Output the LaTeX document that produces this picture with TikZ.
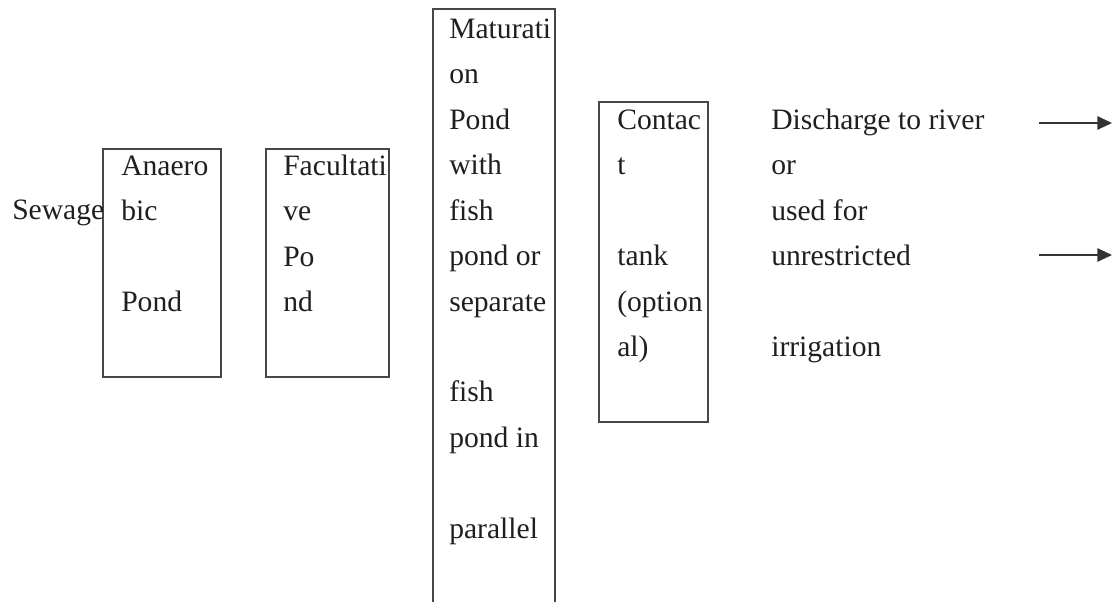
\documentclass[tikz,border=0pt]{standalone}
\usepackage{fontspec}
\setmainfont{Liberation Serif}
\usetikzlibrary{arrows.meta}

\colorlet{boxline}{black!72}
\colorlet{ink}{black!88}

\begin{document}
\begin{tikzpicture}[x=0.75pt, y=-0.75pt,
    pond/.style={line width=1.15pt, draw=boxline},
    pondtext/.style={inner sep=0pt, align=left, anchor=north west, text=ink,
      font=\fontsize{22.2}{34.1}\selectfont},
    outflow/.style={line width=1.4pt, draw=black!80,
      -{Triangle[length=11pt,width=10pt]}}]
      \useasboundingbox (0,0) rectangle (1114,601);
      \clip (0,0) rectangle (1114,601);

      % Boxes (ponds)
      \draw[pond] (103,149) rectangle ++(118,228);
      \draw[pond] (266,149) rectangle ++(123,228);
      \draw[pond] (433,9) rectangle ++(122,640);
      \draw[pond] (599,102) rectangle ++(109,320);

      % Texts
      \node[pondtext, anchor=base west] (sewage) at (12,219) {Sewage};
      \node[pondtext] (anaerobic) at (121,148.5)
      {\rule{0pt}{20pt}Anaero\\bic\\\mbox{}\\Pond};
      \node[pondtext] (facultative) at (283,148.5)
      {\rule{0pt}{20pt}Facultati\\ve\\Po\\nd};
      \node[pondtext] (maturation) at (449,11.3)
      {\rule{0pt}{20pt}Maturati\\on\\Pond\\with\\fish\\pond or\\separate\\\mbox{}\\fish\\pond in\\\mbox{}\\parallel};
      \node[pondtext] (contact) at (617,102.5)
      {\rule{0pt}{20pt}Contac\\t\\\mbox{}\\tank\\(option\\al)};
      \node[pondtext] (discharge) at (771,102.5)
      {\rule{0pt}{20pt}Discharge to river\\or\\used for\\unrestricted\\\mbox{}\\irrigation};

      % Arcs (outflow)
      \coordinate (riverfrom) at (1039,123);
      \coordinate (riverto) at (1112,123);
      \coordinate (irrigfrom) at (1039,255);
      \coordinate (irrigto) at (1112,255);
      \draw[outflow] (riverfrom) -- (riverto);
      \draw[outflow] (irrigfrom) -- (irrigto);
\end{tikzpicture}
\end{document}
